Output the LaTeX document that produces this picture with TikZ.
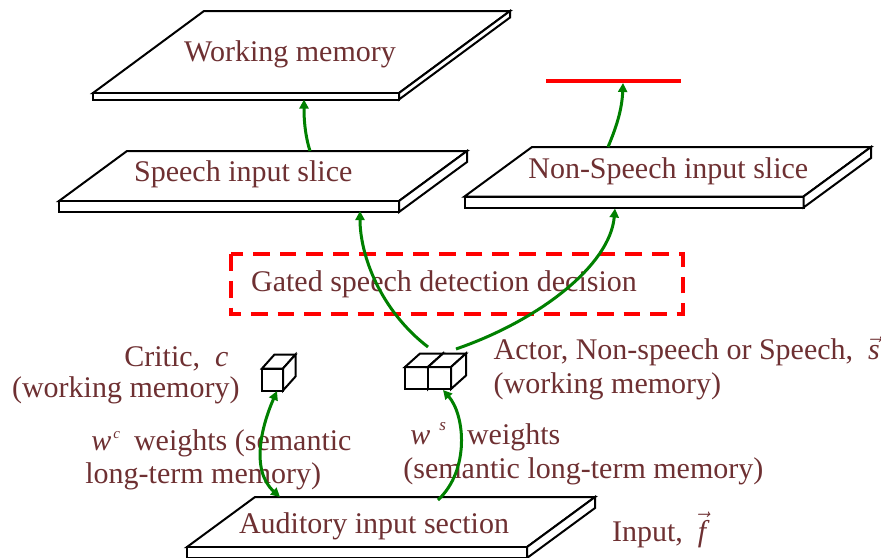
\documentclass[tikz,border=0pt]{standalone}
\usepackage{fontspec}
\setmainfont{Liberation Serif}
\usetikzlibrary{arrows.meta}

\definecolor{labelred}{RGB}{110,48,50}
\definecolor{linkgreen}{RGB}{0,128,0}

% flat slab: back-left corner (#1,#2), width #3, depth offset (#4,#5), thickness #6
\newcommand\slab[6]{%
  \filldraw[slabline]
    (#1,#2) -- (#1+#3,#2) -- (#1+#3-#4,#2+#5) -- (#1-#4,#2+#5) -- cycle;
  \filldraw[slabline]
    (#1-#4,#2+#5) -- (#1+#3-#4,#2+#5) -- (#1+#3-#4,#2+#5+#6) -- (#1-#4,#2+#5+#6) -- cycle;
  \filldraw[slabline]
    (#1+#3-#4,#2+#5) -- (#1+#3,#2) -- (#1+#3,#2+#6) -- (#1+#3-#4,#2+#5+#6) -- cycle;
}
% small cube: front face top-left (#1,#2), width #3, height #4, back offset (#5,#6)
\newcommand\unitcube[6]{%
  \filldraw[cubeline] (#1,#2) rectangle (#1+#3,#2+#4);
  \filldraw[cubeline] (#1,#2) -- (#1+#5,#2+#6) -- (#1+#3+#5,#2+#6) -- (#1+#3,#2) -- cycle;
  \filldraw[cubeline] (#1+#3,#2) -- (#1+#3+#5,#2+#6) -- (#1+#3+#5,#2+#4+#6) -- (#1+#3,#2+#4) -- cycle;
}
% raised small italic index
\newcommand\upidx[3]{\raisebox{#1}{\fontsize{#2}{#2}\selectfont\textit{#3}}}

\begin{document}
\begin{tikzpicture}[x=0.5pt,y=-0.5pt,
  slabline/.style={draw=black,fill=white,line width=1pt,line join=miter},
  cubeline/.style={draw=black,fill=white,line width=1pt,line join=miter},
  label/.style={text=labelred,inner sep=0pt,font=\fontsize{15}{18}\selectfont},
  link/.style={draw=linkgreen,line width=1.5pt,
    -{Triangle[length=4.5pt,width=4.5pt]}},
  biglink/.style={draw=linkgreen,line width=1.5pt,
    {Triangle[length=4.5pt,width=4.5pt]}-{Triangle[length=4.5pt,width=4.5pt]}},
  gatebox/.style={draw=red,line width=2pt,dash pattern=on 8.3pt off 5pt},
  gatebar/.style={draw=red,line width=2.2pt}]

\clip (0,0) rectangle (881,557);

% slabs
\slab{204}{11}{306}{111}{82}{6.5}
\slab{127}{151}{340}{68}{50}{11}
\slab{532}{147}{339}{67.5}{49.5}{11}
\slab{255}{497}{340}{68}{50}{11}

% red bar above the non-speech slice
\coordinate (barL) at (546,80.7);
\coordinate (barR) at (681,80.7);
\draw[gatebar] (barL) -- (barR);

% gated decision box
\draw[gatebox] (231,254.3) rectangle (682.7,314);

% cubes
\unitcube{262}{368.5}{21}{22}{12.5}{-14}
\unitcube{405}{367}{23}{22}{15}{-13.5}
\unitcube{428}{367}{23}{22}{15}{-13.5}

% texts
\node[label,anchor=base] (wm) at (290,61.7) {Working memory};
\node[label,anchor=base] (sp) at (243.3,181.7) {Speech input slice};
\node[label,anchor=base] (ns) at (668.3,178.3) {Non-Speech input slice};
\node[label,anchor=base] (gate) at (444,291.7) {Gated speech detection decision};
\node[label,anchor=base west] (critic) at (124,366) {Critic,\ \ \textit{c}};
\node[label,anchor=base west] (criticwm) at (11.7,397.5) {(working memory)};
\node[label,anchor=base west] (wc) at (91,450)
  {\textit{w}\hspace{1pt}\upidx{6pt}{7.5}{c}\hspace{7pt}weights (semantic};
\node[label,anchor=base west] (wclong) at (85,483.5) {long-term memory)};
\node[label,anchor=base west] (ws) at (410,444.3)
  {\textit{w}\hspace{4.5pt}\upidx{7pt}{8.5}{s}\hspace{10.5pt}weights};
\node[label,anchor=base west] (wslong) at (403,478.3) {(semantic long-term memory)};
\node[label,anchor=base west] (actor) at (493.3,359.3)
  {Actor, Non-speech or Speech,\ \ $\vec{\textit{s}}$};
\node[label,anchor=base west] (actorwm) at (493.3,393.3) {(working memory)};
\node[label,anchor=base west] (inp) at (611.7,541.7) {Input,\ \ $\vec{\textit{f}}$};
\node[label,anchor=base] (aud) at (374,533) {Auditory input section};

% connector ends on slabs and cubes
\coordinate (wmB) at (304,99.5);
\coordinate (spT) at (310,151);
\coordinate (spB) at (360,211);
\coordinate (nsT) at (608,147);
\coordinate (nsB) at (615,208.5);
\coordinate (barC) at (623,83);
\coordinate (critB) at (277,391);
\coordinate (audL) at (280,497);
\coordinate (actL) at (428,347);
\coordinate (actR) at (456,349);
\coordinate (actB) at (443,390);
\coordinate (audR) at (438,500);

% green connectors
\draw[link] (spT) .. controls (305,135) and (304,120) .. (wmB);
\draw[link] (nsT) .. controls (616,128) and (622,110) .. (barC);
\draw[link] (actL) .. controls (380,310) and (360,255) .. (spB);
\draw[link] (actR) .. controls (540,320) and (610,265) .. (nsB);
\draw[biglink] (critB) .. controls (262,425) and (250,470) .. (audL);
\draw[link] (audR) .. controls (470,470) and (465,415) .. (actB);

\end{tikzpicture}
\end{document}
